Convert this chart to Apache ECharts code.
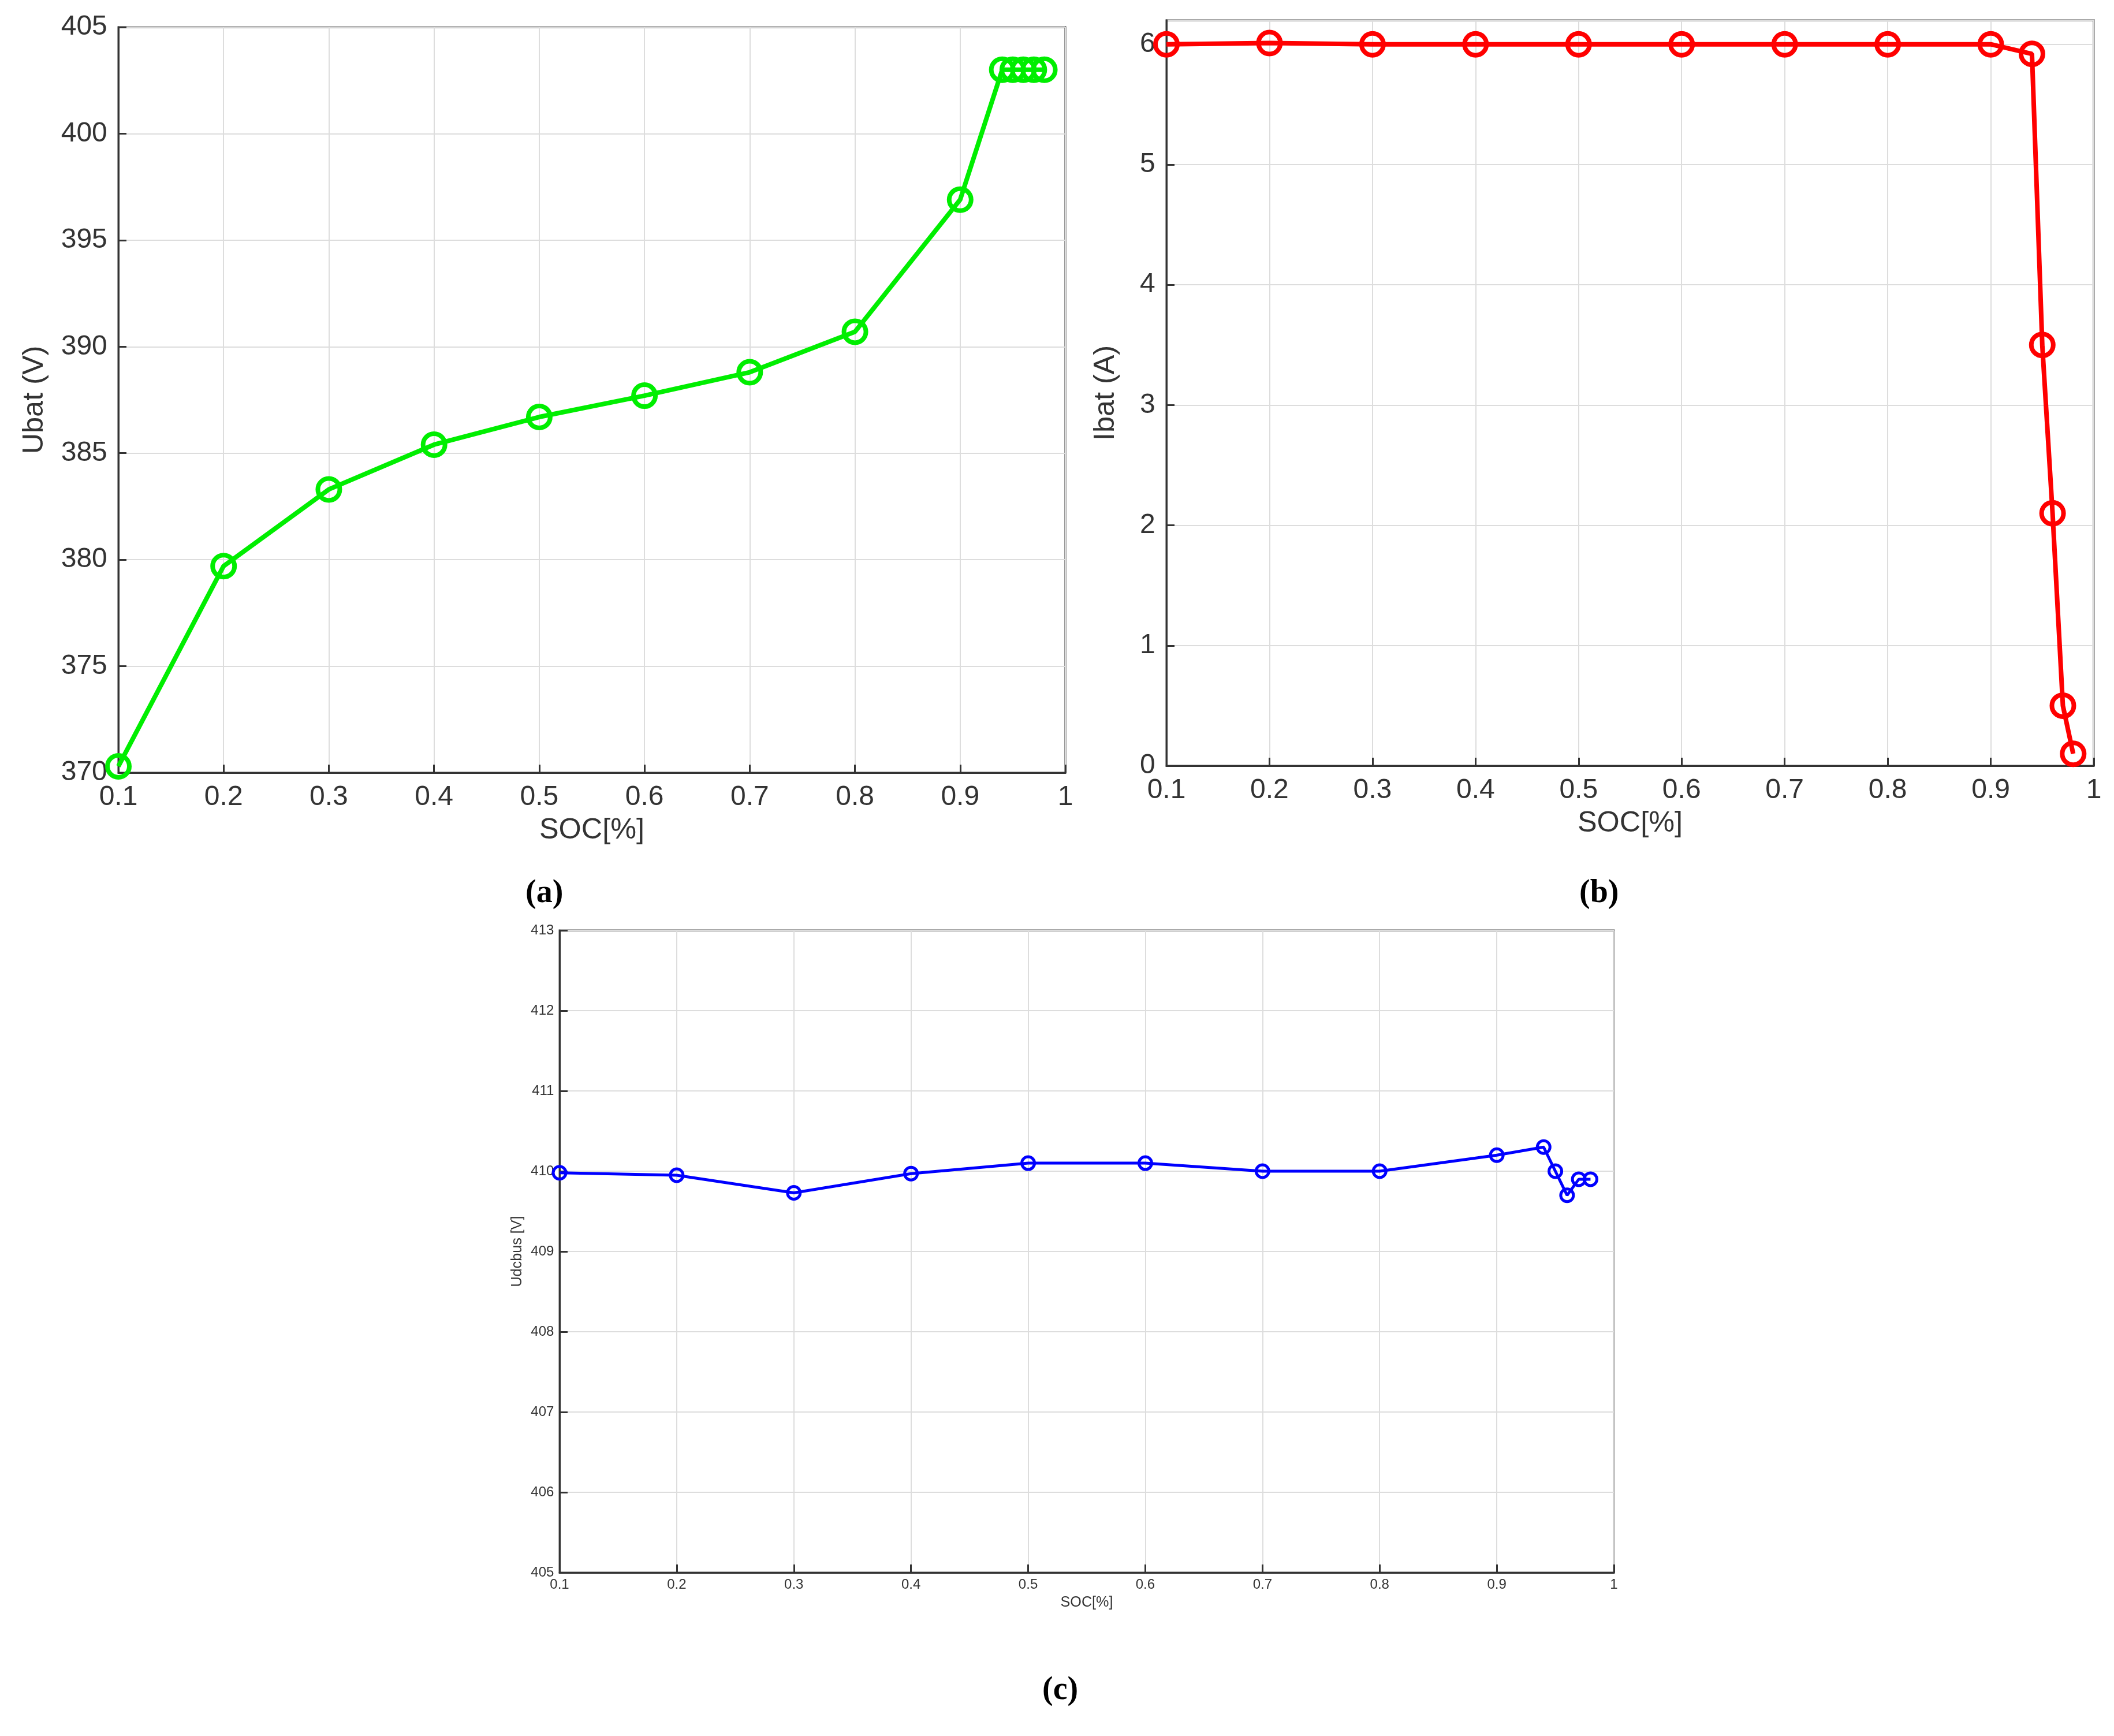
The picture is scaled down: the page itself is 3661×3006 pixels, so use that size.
<!DOCTYPE html>
<html><head><meta charset="utf-8">
<script src="https://cdn.jsdelivr.net/npm/echarts@6/dist/echarts.min.js"></script>
<style>html,body{margin:0;background:#fff}#main{width:3661px;height:3006px}</style>
</head><body><div id="main"></div>
<script>
// SOC values for each panel
var socA = [0.1, 0.2, 0.3, 0.4, 0.5, 0.6, 0.7, 0.8, 0.9, 0.94, 0.95, 0.96, 0.97, 0.98];
var ubat = [370.3, 379.7, 383.3, 385.4, 386.7, 387.7, 388.8, 390.7, 396.9, 403, 403, 403, 403, 403];
var ibat = [6.0, 6.01, 6.0, 6.0, 6.0, 6.0, 6.0, 6.0, 6.0, 5.92, 3.5, 2.1, 0.5, 0.1];
var udcbus = [409.98, 409.95, 409.73, 409.97, 410.1, 410.1, 410.0, 410.0, 410.2, 410.3, 410.0, 409.7, 409.9, 409.9];

function pairs(xs, ys) {
  return xs.map(function (x, i) { return [x, ys[i]]; });
}

var chart = echarts.init(document.getElementById('main'));
var font = 'Liberation Sans, Arial, sans-serif';

function xAxis(idx, fs, gap) {
  return {
    type: 'value', gridIndex: idx, min: 0.1, max: 1, interval: 0.1,
    name: 'SOC[%]', nameLocation: 'middle', nameGap: gap,
    nameTextStyle: { fontSize: fs * 1.05, color: '#333', fontFamily: font },
    axisLine: { onZero: false, lineStyle: { color: '#333', width: 3 } },
    axisTick: { inside: true, length: 14, lineStyle: { color: '#333', width: 3 } },
    axisLabel: { fontSize: fs, color: '#333', fontFamily: font, margin: fs * 0.4,
      formatter: function (v) { return String(Math.round(v * 10) / 10); } },
    splitLine: { show: true, lineStyle: { color: '#ddd', width: 2 } }
  };
}
function yAxis(idx, min, max, step, name, fs, gap) {
  return {
    type: 'value', gridIndex: idx, min: min, max: max, interval: step,
    name: name, nameLocation: 'middle', nameGap: gap,
    nameTextStyle: { fontSize: fs * 1.05, color: '#333', fontFamily: font },
    axisLine: { show: true, lineStyle: { color: '#333', width: 3 } },
    axisTick: { show: true, inside: true, length: 14, lineStyle: { color: '#333', width: 3 } },
    axisLabel: { fontSize: fs, color: '#333', fontFamily: font, margin: fs * 0.4 },
    splitLine: { show: true, lineStyle: { color: '#ddd', width: 2 } }
  };
}
function series(idx, data, color, size, width) {
  return {
    type: 'line', xAxisIndex: idx, yAxisIndex: idx, data: data,
    symbol: 'circle', symbolSize: size, showAllSymbol: true, clip: false,
    lineStyle: { color: color, width: width },
    itemStyle: { color: 'rgba(255,255,255,0)', borderColor: color, borderWidth: width },
    silent: true
  };
}
function label(text, x, y) {
  return { text: text, left: x, top: y, textStyle: { fontFamily: 'Liberation Serif, serif', fontSize: 56, fontWeight: 'bold', color: '#000' } };
}

chart.setOption({
  animation: false,
  backgroundColor: '#fff',
  title: [label('(a)', 905, 1515), label('(b)', 2730, 1515), label('(c)', 1800, 2895)],
  grid: [
    { left: 205, top: 47, width: 1640, height: 1291, show: true, borderColor: '#333', borderWidth: 3 },
    { left: 2020, top: 35, width: 1606, height: 1291, show: true, borderColor: '#333', borderWidth: 3 },
    { left: 969, top: 1611, width: 1826, height: 1112, show: true, borderColor: '#555', borderWidth: 3 }
  ],
  xAxis: [xAxis(0, 48, 75), xAxis(1, 48, 75), xAxis(2, 24, 40)],
  yAxis: [
    yAxis(0, 370, 405, 5, 'Ubat (V)', 48, 120),
    yAxis(1, 0, 6.2, 1, 'Ibat (A)', 48, 80),
    yAxis(2, 405, 413, 1, 'Udcbus [V]', 24, 60)
  ],
  series: [
    series(0, pairs(socA, ubat), '#00ee00', 38, 8),
    series(1, pairs(socA, ibat), '#ff0000', 38, 8),
    series(2, pairs(socA, udcbus), '#0000ff', 22, 5)
  ]
});
</script>
</body></html>
